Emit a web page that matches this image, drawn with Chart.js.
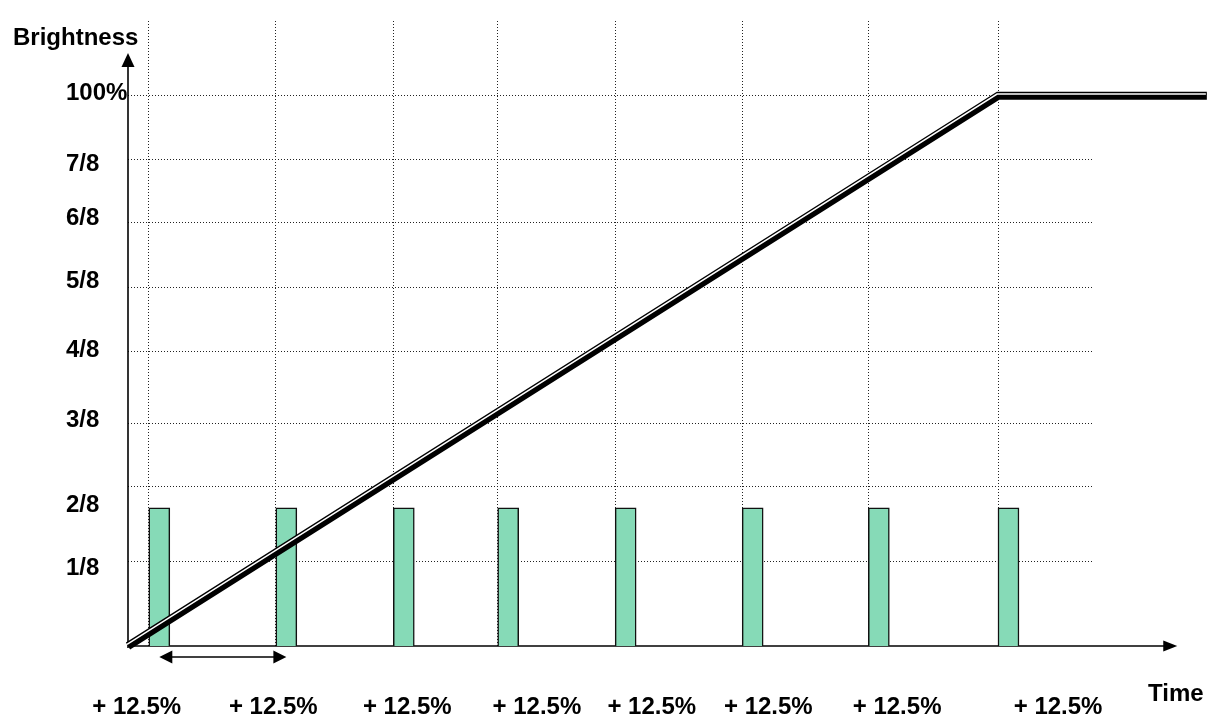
<!DOCTYPE html>
<html>
<head>
<meta charset="utf-8">
<script src="https://cdn.jsdelivr.net/npm/chart.js@4/dist/chart.umd.min.js"></script>
<style>
  html, body { margin: 0; padding: 0; background: #fff; }
  canvas { display: block; }
</style>
</head>
<body>
<canvas id="rampChart" width="1221" height="718"></canvas>
<script>
// time is in % of the ramp duration, brightness in % of full
const rampTime = [0, 100, 124];
const rampLevel = [0, 100, 100];

const pulseTimes = [3.6, 18.2, 31.7, 43.7, 57.2, 71.8, 86.3, 101.2];
const pulseLevel = [25.1, 25.1, 25.1, 25.1, 25.1, 25.1, 25.1, 25.1];

const gridTimes = [2.3, 17.0, 30.5, 42.5, 56.0, 70.6, 85.1, 100];
const gridLevels = [15.3, 28.9, 40.4, 53.5, 65.1, 76.9, 88.4, 100];

const yLabels = ['1/8', '2/8', '3/8', '4/8', '5/8', '6/8', '7/8', '100%'];
const yLabelLevels = [14.2, 25.6, 41.1, 53.8, 66.2, 77.8, 87.5, 100.5];

const xLabels = ['+ 12.5%', '+ 12.5%', '+ 12.5%', '+ 12.5%', '+ 12.5%', '+ 12.5%', '+ 12.5%', '+ 12.5%'];
const xLabelTimes = [1.0, 16.7, 32.1, 47.0, 60.2, 73.6, 88.4, 106.9];

const timeMax = 110.8;
const levelMax = 113.6;
const xAxisEnd = 120.6;
const yAxisEnd = 107.8;

const FONT = 'Arial, "Liberation Sans", sans-serif';

const toPoints = (xs, ys) => xs.map((x, i) => ({ x: x, y: ys[i] }));

// draws the arrowed axes, the interval arrow and the two free titles
const sketchPlugin = {
    id: 'sketch',
    beforeDatasetsDraw(chart) {
        const ctx = chart.ctx;
        const xs = chart.scales.x;
        const ys = chart.scales.y;
        const x0 = xs.getPixelForValue(0);
        const y0 = ys.getPixelForValue(0);
        const xEnd = xs.getPixelForValue(xAxisEnd);
        const yEnd = ys.getPixelForValue(yAxisEnd);

        ctx.save();
        ctx.strokeStyle = '#000';
        ctx.fillStyle = '#000';
        ctx.lineWidth = 1.6;

        // x axis
        ctx.beginPath();
        ctx.moveTo(x0, y0);
        ctx.lineTo(xEnd - 12, y0);
        ctx.stroke();
        ctx.beginPath();
        ctx.moveTo(xEnd, y0);
        ctx.lineTo(xEnd - 14, y0 - 5.5);
        ctx.lineTo(xEnd - 14, y0 + 5.5);
        ctx.closePath();
        ctx.fill();

        // y axis
        ctx.beginPath();
        ctx.moveTo(x0, y0 + 2);
        ctx.lineTo(x0, yEnd + 12);
        ctx.stroke();
        ctx.beginPath();
        ctx.moveTo(x0, yEnd);
        ctx.lineTo(x0 - 6.5, yEnd + 14);
        ctx.lineTo(x0 + 6.5, yEnd + 14);
        ctx.closePath();
        ctx.fill();

        // interval arrow between the first two pulses
        const a = xs.getPixelForValue(pulseTimes[0]);
        const b = xs.getPixelForValue(pulseTimes[1]);
        const ay = y0 + 11;
        ctx.lineWidth = 1.5;
        ctx.beginPath();
        ctx.moveTo(a + 10, ay);
        ctx.lineTo(b - 10, ay);
        ctx.stroke();
        ctx.beginPath();
        ctx.moveTo(a, ay);
        ctx.lineTo(a + 13, ay - 6.5);
        ctx.lineTo(a + 13, ay + 6.5);
        ctx.closePath();
        ctx.fill();
        ctx.beginPath();
        ctx.moveTo(b, ay);
        ctx.lineTo(b - 13, ay - 6.5);
        ctx.lineTo(b - 13, ay + 6.5);
        ctx.closePath();
        ctx.fill();

        // titles
        ctx.font = 'bold 24px ' + FONT;
        ctx.textBaseline = 'middle';
        ctx.textAlign = 'left';
        ctx.fillText('Brightness', 13, 38);
        ctx.fillText('Time', 1148, 694);
        ctx.restore();
    },
    // shift the thin white stroke so the ramp looks like a double line
    beforeDatasetDraw(chart, args) {
        if (args.index === 0) {
            chart.ctx.save();
            chart.ctx.translate(-1.0, -1.7);
        }
    },
    afterDatasetDraw(chart, args) {
        if (args.index === 0) {
            chart.ctx.restore();
        }
    }
};

new Chart(document.getElementById('rampChart').getContext('2d'), {
    data: {
        datasets: [
            {
                type: 'line',
                data: toPoints(rampTime, rampLevel),
                borderColor: '#ffffff',
                borderWidth: 1.5,
                pointRadius: 0,
                tension: 0,
                clip: false,
                borderJoinStyle: 'miter'
            },
            {
                type: 'line',
                data: toPoints(rampTime, rampLevel),
                borderColor: '#000000',
                borderWidth: 8,
                pointRadius: 0,
                tension: 0,
                clip: false,
                borderJoinStyle: 'miter'
            },
            {
                type: 'bar',
                data: toPoints(pulseTimes, pulseLevel),
                backgroundColor: '#86dab7',
                borderColor: '#111',
                borderWidth: 1.5,
                barThickness: 21
            }
        ]
    },
    options: {
        responsive: false,
        animation: false,
        layout: { padding: { left: 66, right: 129, top: 21, bottom: 0 } },
        plugins: {
            legend: { display: false },
            tooltip: { enabled: false }
        },
        scales: {
            x: {
                type: 'linear',
                position: 'bottom',
                offset: false,
                min: 0,
                max: timeMax,
                grid: { display: false, offset: false },
                border: { display: false },
                afterBuildTicks: (scale) => { scale.ticks = xLabelTimes.map(v => ({ value: v })); },
                afterFit: (scale) => { scale.height = 72; },
                ticks: {
                    autoSkip: false,
                    maxRotation: 0,
                    padding: 39,
                    color: '#000',
                    font: { family: FONT, size: 24, weight: 'bold' },
                    callback: (value, index) => xLabels[index]
                }
            },
            xGrid: {
                type: 'linear',
                position: 'bottom',
                offset: false,
                min: 0,
                max: timeMax,
                afterBuildTicks: (scale) => { scale.ticks = gridTimes.map(v => ({ value: v })); },
                afterFit: (scale) => { scale.height = 0; },
                grid: { color: '#222', lineWidth: 1, drawTicks: false, offset: false },
                border: { display: false, dash: [1, 2] },
                ticks: { display: false }
            },
            y: {
                type: 'linear',
                position: 'left',
                min: 0,
                max: levelMax,
                grid: { display: false },
                border: { display: false },
                afterBuildTicks: (scale) => { scale.ticks = yLabelLevels.map(v => ({ value: v })); },
                afterFit: (scale) => { scale.width = 62; },
                ticks: {
                    crossAlign: 'far',
                    autoSkip: false,
                    color: '#000',
                    font: { family: FONT, size: 24, weight: 'bold' },
                    callback: (value, index) => yLabels[index]
                }
            },
            yGrid: {
                type: 'linear',
                position: 'left',
                min: 0,
                max: levelMax,
                afterBuildTicks: (scale) => { scale.ticks = gridLevels.map(v => ({ value: v })); },
                afterFit: (scale) => { scale.width = 0; },
                grid: { color: '#222', lineWidth: 1, drawTicks: false },
                border: { display: false, dash: [1, 2] },
                ticks: { display: false }
            }
        }
    },
    plugins: [sketchPlugin]
});
</script>
</body>
</html>
